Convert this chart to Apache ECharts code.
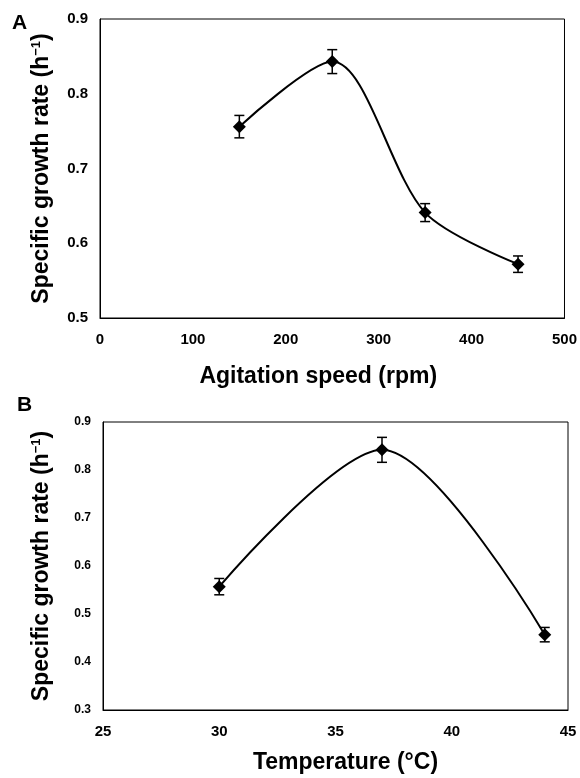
<!DOCTYPE html>
<html>
<head>
<meta charset="utf-8">
<script src="https://cdn.jsdelivr.net/npm/echarts@6/dist/echarts.min.js"></script>
<style>
html,body{margin:0;padding:0;background:#fff;}
#c{width:580px;height:778px;}
</style>
</head>
<body>
<div id="c"></div>
<script>
// Panel A: agitation speed
const speedA = [150, 250, 350, 450];
const rateA = [0.756, 0.843, 0.641, 0.572];
const errA = [0.015, 0.016, 0.012, 0.011];
const yTicksA = [0.5, 0.6, 0.7, 0.8, 0.9];
const xTicksA = [0, 100, 200, 300, 400, 500];

// Panel B: temperature
const tempB = [30, 37, 44];
const rateB = [0.557, 0.842, 0.457];
const errB = [0.017, 0.026, 0.015];
const yTicksB = [0.3, 0.4, 0.5, 0.6, 0.7, 0.8, 0.9];
const xTicksB = [25, 30, 35, 40, 45];

const FONT = '"Liberation Sans", Arial, sans-serif';
const chart = echarts.init(document.getElementById('c'), null, {renderer: 'canvas'});

function pairs(xs, ys) { return xs.map((x, i) => [x, ys[i]]); }
function errData(xs, ys, es) { return xs.map((x, i) => [x, ys[i] - es[i], ys[i] + es[i]]); }

function errRender(params, api) {
  const x = api.value(0);
  const lo = api.coord([x, api.value(1)]);
  const hi = api.coord([x, api.value(2)]);
  const cap = 5;
  const st = {stroke: '#000', lineWidth: 1.5};
  return {
    type: 'group',
    children: [
      {type: 'line', shape: {x1: lo[0], y1: lo[1], x2: hi[0], y2: hi[1]}, style: st},
      {type: 'line', shape: {x1: lo[0] - cap, y1: lo[1], x2: lo[0] + cap, y2: lo[1]}, style: st},
      {type: 'line', shape: {x1: hi[0] - cap, y1: hi[1], x2: hi[0] + cap, y2: hi[1]}, style: st}
    ]
  };
}

const yName = '{a|Specific growth rate (h}{s|\u22121}{a|)}';
const yNameRich = {
  a: {fontSize: 23, fontWeight: 'bold', fontFamily: FONT, color: '#000', verticalAlign: 'bottom'},
  s: {fontSize: 13, fontWeight: 'bold', fontFamily: FONT, color: '#000', verticalAlign: 'top'}
};

function xAxisCfg(idx, min, max, interval, name, gap, pad, labelSize) {
  return {
    type: 'value', gridIndex: idx, min: min, max: max, interval: interval,
    name: name, nameLocation: 'middle', nameGap: gap,
    nameTextStyle: {fontSize: 23, fontWeight: 'bold', fontFamily: FONT, color: '#000', padding: pad},
    axisLine: {show: true, onZero: false, lineStyle: {color: '#000', width: 1}},
    axisTick: {show: false},
    splitLine: {show: false},
    axisLabel: {fontSize: labelSize, fontWeight: 'bold', fontFamily: FONT, color: '#000', margin: 14}
  };
}
function yAxisCfg(idx, min, max, interval, gap, labelSize) {
  return {
    type: 'value', gridIndex: idx, min: min, max: max, interval: interval,
    name: yName, nameLocation: 'middle', nameGap: gap, nameRotate: 90,
    nameTextStyle: {rich: yNameRich},
    axisLine: {show: true, onZero: false, lineStyle: {color: '#000', width: 1}},
    axisTick: {show: false},
    splitLine: {show: false},
    axisLabel: {fontSize: labelSize, fontWeight: 'bold', fontFamily: FONT, color: '#000', margin: 12,
      formatter: v => v.toFixed(1)}
  };
}

chart.setOption({
  animation: false,
  backgroundColor: '#fff',
  title: [
    {text: 'A', left: 7, top: 8, textStyle: {fontSize: 21, fontWeight: 'bold', fontFamily: FONT, color: '#000'}},
    {text: 'B', left: 12, top: 390, textStyle: {fontSize: 21, fontWeight: 'bold', fontFamily: FONT, color: '#000'}}
  ],
  grid: [
    {left: 100, top: 19, width: 466, height: 299, show: true, borderColor: '#000', borderWidth: 1, backgroundColor: 'transparent'},
    {left: 103, top: 422, width: 465, height: 288, show: true, borderColor: '#000', borderWidth: 1, backgroundColor: 'transparent'}
  ],
  xAxis: [
    xAxisCfg(0, xTicksA[0], xTicksA[xTicksA.length - 1], xTicksA[1] - xTicksA[0], 'Agitation speed (rpm)', 47, [0, 28, 0, 0], 15),
    xAxisCfg(1, xTicksB[0], xTicksB[xTicksB.length - 1], xTicksB[1] - xTicksB[0], 'Temperature (\u00B0C)', 41, [0, 0, 0, 20], 15)
  ],
  yAxis: [
    yAxisCfg(0, yTicksA[0], yTicksA[yTicksA.length - 1], 0.1, 47, 15),
    yAxisCfg(1, yTicksB[0], yTicksB[yTicksB.length - 1], 0.1, 50, 12)
  ],
  series: [
    {type: 'line', xAxisIndex: 0, yAxisIndex: 0, data: pairs(speedA, rateA), smooth: 0.3,
      symbol: 'diamond', symbolSize: 13, lineStyle: {color: '#000', width: 2}, itemStyle: {color: '#000'}, z: 3},
    {type: 'custom', xAxisIndex: 0, yAxisIndex: 0, data: errData(speedA, rateA, errA), renderItem: errRender, z: 4},
    {type: 'line', xAxisIndex: 1, yAxisIndex: 1, data: pairs(tempB, rateB), smooth: 0.3,
      symbol: 'diamond', symbolSize: 13, lineStyle: {color: '#000', width: 2}, itemStyle: {color: '#000'}, z: 3},
    {type: 'custom', xAxisIndex: 1, yAxisIndex: 1, data: errData(tempB, rateB, errB), renderItem: errRender, z: 4}
  ]
});
</script>
</body>
</html>
